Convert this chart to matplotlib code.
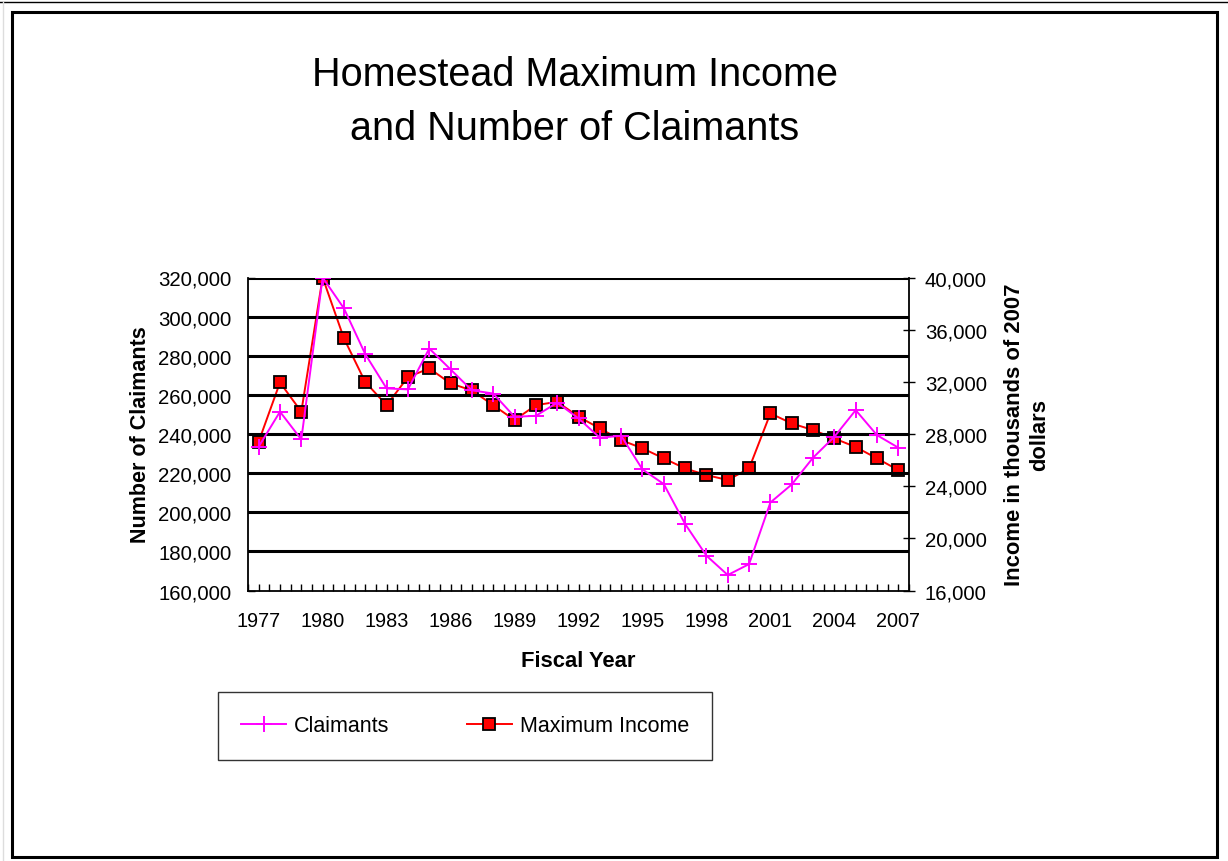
import matplotlib
matplotlib.use("Agg")
import matplotlib.pyplot as plt
from matplotlib.ticker import FuncFormatter, MultipleLocator
from matplotlib.patches import Rectangle
from matplotlib.lines import Line2D

plt.rcParams['font.family'] = ['Liberation Sans', 'DejaVu Sans']

years = list(range(1977, 2008))
claimants = [233500, 251400, 237200, 320000, 304200, 280800, 263300, 262800,
             283700, 273000, 262300, 260700, 248800, 249300, 256000, 248000,
             238100, 239100, 221900, 214400, 194000, 177800, 167900, 173500,
             205000, 214200, 227900, 238600, 252200, 239400, 233000]
max_income = [27410, 31950, 29710, 40000, 35330, 31980, 30210, 32360,
              33030, 31880, 31340, 30210, 29070, 30210, 30470, 29330,
              28430, 27530, 26900, 26130, 25360, 24850, 24470, 25360,
              29580, 28810, 28300, 27660, 27000, 26130, 25230]
left_ticks = list(range(160000, 320001, 20000))
right_ticks = list(range(16000, 40001, 4000))

W, H = 1228, 862
fig = plt.figure(figsize=(W / 100, H / 100), dpi=100)

# outer frame
fig.patches.append(Rectangle((12 / W, 1 - 858 / H), (1217 - 12) / W, (858 - 13) / H,
                             transform=fig.transFigure, fill=False, lw=2.2,
                             edgecolor='black'))
fig.lines.append(Line2D([0, 1], [1 - 2.5 / H, 1 - 2.5 / H], transform=fig.transFigure,
                        color='black', lw=1))
fig.lines.append(Line2D([2.5 / W, 2.5 / W], [0, 1 - 2.5 / H], transform=fig.transFigure,
                        color='#dddddd', lw=1))

left, right, top, bottom = 248, 909, 278.5, 591.5
ax = fig.add_axes([left / W, 1 - bottom / H, (right - left) / W, (bottom - top) / H])
x = list(range(len(years)))

ax.set_xlim(-0.5, len(years) - 0.5)
ax.set_ylim(160000, 320000)
ax.set_yticks(left_ticks)
ax.yaxis.set_major_formatter(FuncFormatter(lambda v, p: f"{int(v):,}"))
for yv in left_ticks[1:]:
    ax.axhline(yv, color='black', lw=2.2, zorder=1)

ax.set_xticks(x[::3])
ax.set_xticklabels([str(y) for y in years[::3]])
ax.xaxis.set_minor_locator(MultipleLocator(0.5))
ax.tick_params(axis='x', which='both', direction='in', length=5, width=1,
               labelsize=14.3, pad=15)
ax.tick_params(axis='y', direction='in', length=5, width=1, labelsize=14.7, pad=12)

for s in ['top', 'right']:
    ax.spines[s].set_visible(False)
for s in ['left', 'bottom']:
    ax.spines[s].set_linewidth(1.3)

l1, = ax.plot(x, claimants, color='#ff00ff', lw=1.4, marker='+', markersize=11,
              markeredgewidth=1.4, zorder=4, label='Claimants')

ax2 = ax.twinx()
ax2.set_ylim(16000, 40000)
ax2.set_yticks(right_ticks)
ax2.yaxis.set_major_formatter(FuncFormatter(lambda v, p: f"{int(v):,}"))
ax2.tick_params(axis='y', direction='inout', length=9, width=1, labelsize=14.7, pad=7)
for s in ['top', 'left', 'bottom']:
    ax2.spines[s].set_visible(False)
ax2.spines['right'].set_linewidth(1.3)
l2, = ax2.plot(x, max_income, color='#ff0000', lw=1.4, marker='s', markersize=8,
               markerfacecolor='#ff0000', markeredgecolor='black', markeredgewidth=1.3,
               zorder=5, label='Maximum Income')

ax.set_zorder(ax2.get_zorder() + 1)
ax.patch.set_visible(False)

ax.set_ylabel('Number of Claimants', fontsize=15.5, fontweight='bold', labelpad=5)
ax.set_xlabel('Fiscal Year', fontsize=15.8, fontweight='bold', labelpad=14)
ax2.set_ylabel('Income in thousands of 2007\ndollars', fontsize=15.8, fontweight='bold',
               labelpad=12, linespacing=1.3)

fig.text(575 / W, 1 - 102 / H, 'Homestead Maximum Income\nand Number of Claimants',
         ha='center', va='center', fontsize=28.5, linespacing=1.5)

leg = fig.legend(handles=[l1, l2], loc='center', bbox_to_anchor=(465 / W, 1 - 727 / H),
                 ncol=2, fontsize=15.5, frameon=True, fancybox=False, edgecolor='black',
                 borderpad=1.1, columnspacing=3.6, handlelength=2.1, handletextpad=0.35,
                 borderaxespad=0)
leg.get_frame().set_linewidth(1.0)

fig.savefig('out.png', dpi=100)
